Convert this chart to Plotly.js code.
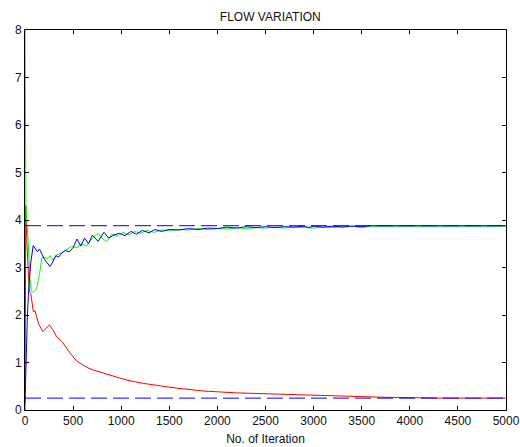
<!DOCTYPE html>
<html>
<head>
<meta charset="utf-8">
<script src="https://cdn.plot.ly/plotly-3.0.1.min.js"></script>
<style>html,body{margin:0;padding:0;background:#fff;}#chart{width:520px;height:447px;}</style>
</head>
<body>
<div id="chart"></div>
<script>
// Blue series (iteration, flow)
const blueX = [0,10,25,40,60,85,110,130,150,175,200,230,260,290,320,350,380,420,460,500,540,580,620,660,700,760,820,870,920,980,1040,1100,1160,1220,1290,1350,1420,1500,1600,1700,1800,1900,2000,2100,2200,2300,2400,2500,2600,2700,2800,2900,2950,3000,3100,3200,3300,3400,3500,3600,3800,4000,5000];
const blueY = [0.15,1.0,2.0,2.6,3.1,3.46,3.38,3.33,3.39,3.28,3.18,3.1,3.02,3.12,3.25,3.22,3.3,3.36,3.33,3.42,3.6,3.45,3.62,3.5,3.68,3.55,3.74,3.62,3.68,3.72,3.67,3.76,3.70,3.78,3.73,3.8,3.76,3.80,3.79,3.82,3.80,3.83,3.82,3.85,3.83,3.86,3.84,3.86,3.84,3.86,3.85,3.87,3.84,3.87,3.85,3.87,3.85,3.87,3.86,3.88,3.88,3.88,3.88];

// Green series
const greenX = [0,5,10,20,35,50,65,90,120,150,175,200,230,260,290,330,370,420,480,540,590,640,700,760,810,850,900,960,1020,1080,1140,1200,1270,1340,1420,1500,1600,1700,1800,1900,2000,2100,2200,2300,2400,2500,2600,2700,2800,2900,3000,3100,3200,3300,3400,3500,3600,3700,4000,5000];
const greenY = [8,6,4.3,3.95,3.5,2.8,2.5,2.48,2.55,2.85,3.2,3.22,3.18,3.25,3.15,3.27,3.3,3.36,3.44,3.42,3.5,3.45,3.62,3.72,3.6,3.54,3.7,3.66,3.74,3.69,3.76,3.72,3.78,3.74,3.79,3.78,3.80,3.79,3.82,3.80,3.82,3.81,3.84,3.82,3.84,3.83,3.85,3.83,3.85,3.84,3.83,3.85,3.84,3.86,3.87,3.84,3.87,3.87,3.87,3.87];

// Red series
const redX = [0,8,20,35,45,60,87,104,139,184,208,253,294,329,381,433,468,537,641,710,884,1057,1230,1403,1577,1854,2200,2547,2894,3276,3690,4366,5000];
const redY = [0,4.3,3.5,2.7,2.5,2.45,2.07,2.09,1.83,1.65,1.70,1.79,1.68,1.54,1.45,1.3,1.2,1.03,0.9,0.84,0.74,0.63,0.56,0.51,0.46,0.40,0.36,0.34,0.32,0.30,0.27,0.25,0.25];

// Reference (dashed) levels
const refX = [0,5000];
const refUpper = [3.88,3.88];
const refLower = [0.25,0.25];

const xTicks = [0,500,1000,1500,2000,2500,3000,3500,4000,4500,5000];
const yTicks = [0,1,2,3,4,5,6,7,8];

const traces = [
  {x: redX, y: redY, mode:'lines', line:{color:'#ff0000', width:1}},
  {x: greenX, y: greenY, mode:'lines', line:{color:'#00ff00', width:1}},
  {x: blueX, y: blueY, mode:'lines', line:{color:'#0000ff', width:1}},
  {x: refX, y: refUpper, mode:'lines', line:{color:'#0000ff', width:1, dash:'16px,6px'}},
  {x: refX, y: refLower, mode:'lines', line:{color:'#0000ff', width:1, dash:'16px,6px'}}
];

const font = {family:'"Liberation Sans", Arial, sans-serif', size:12, color:'#111'};
const layout = {
  width:520, height:447,
  margin:{l:25, r:14, t:30, b:37, pad:0},
  paper_bgcolor:'#fff', plot_bgcolor:'#fff',
  showlegend:false,
  font: font,
  title:{text:'FLOW VARIATION', font:font, x:0.51, xanchor:'center', y:1-17/447, yanchor:'middle', xref:'paper'},
  xaxis:{range:[0,5000], tickvals:xTicks, ticktext:xTicks.map(String), ticks:'inside', ticklen:4, tickcolor:'#000',
         showline:true, mirror:'ticks', linecolor:'#000', linewidth:1, showgrid:false, zeroline:false,
         title:{text:'No. of Iteration', font:font, standoff:7}, automargin:false},
  yaxis:{range:[0,8], tickvals:yTicks, ticktext:yTicks.map(String), ticks:'inside', ticklen:4, tickcolor:'#000',
         showline:true, mirror:'ticks', linecolor:'#000', linewidth:1, showgrid:false, zeroline:false, automargin:false}
};

Plotly.newPlot('chart', traces, layout, {displayModeBar:false, staticPlot:true});
</script>
</body>
</html>
